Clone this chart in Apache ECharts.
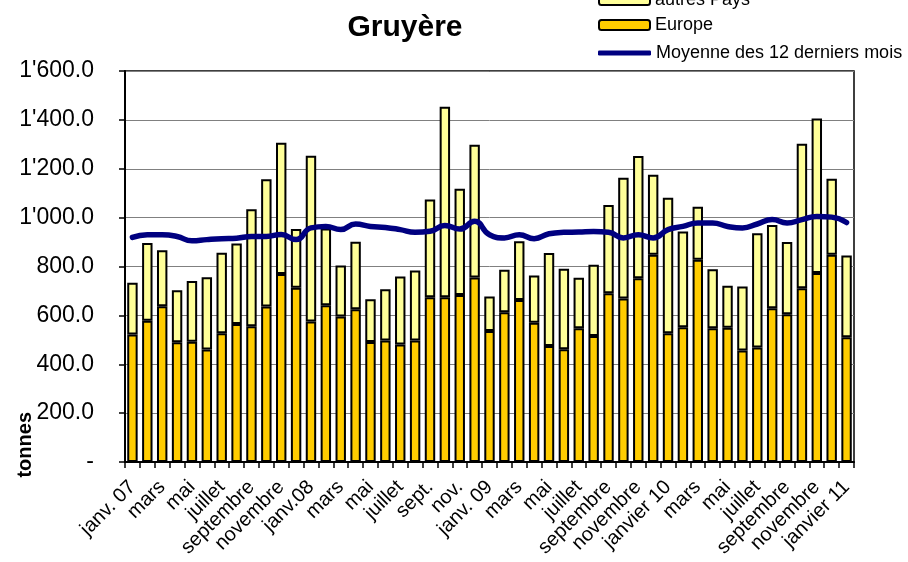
<!DOCTYPE html>
<html>
<head>
<meta charset="utf-8">
<script src="https://cdn.jsdelivr.net/npm/echarts@6/dist/echarts.min.js"></script>
<style>
html,body{margin:0;padding:0;background:#fff;}
#c{width:908px;height:562px;}
</style>
</head>
<body>
<div id="c"></div>
<script>
const months = ["janv. 07","février","mars","avril","mai","juin","juillet","août","septembre","octobre","novembre","décembre",
"janv.08","février","mars","avril","mai","juin","juillet","août","sept.","oct.","nov.","déc.",
"janv. 09","février","mars","avril","mai","juin","juillet","août","septembre","octobre","novembre","décembre",
"janvier 10","février","mars","avril","mai","juin","juillet","août","septembre","octobre","novembre","décembre",
"janvier 11"];
const europe = [522,578,637,490,492,460,527,565,555,636,769,713,575,641,595,625,491,497,481,497,674,674,683,755,536,613,663,570,475,461,547,516,691,669,752,848,527,551,828,547,549,456,469,629,605,711,773,848,510];
const autresPays = [212,318,230,213,249,296,329,329,479,521,537,240,678,314,209,276,175,210,278,287,400,780,435,543,141,174,240,193,380,330,207,291,361,494,500,327,554,392,216,242,172,262,467,341,295,591,633,311,335];
const moyenne = [919,930,930,923,905,910,914,916,923,923,931,910,958,964,951,974,964,960,951,940,944,968,953,985,930,917,930,914,934,940,941,943,940,917,930,917,951,964,978,978,964,958,974,992,978,992,1005,1002,980];

const FONT = "Liberation Sans, Arial, sans-serif";
const chart = echarts.init(document.getElementById('c'), null, {renderer:'canvas'});

function fmt(v){
  if (v === 0) return '-';
  const s = v.toFixed(1);
  const parts = s.split('.');
  const intp = parts[0].replace(/\B(?=(\d{3})+(?!\d))/g, "'");
  return intp + '.' + parts[1];
}

chart.setOption({
  animation:false,
  backgroundColor:'#fff',
  textStyle:{fontFamily:FONT},
  title:{
    text:'Gruyère',
    left:400, top:8, textAlign:'center',
    textStyle:{fontFamily:FONT,fontSize:30,fontWeight:'bold',color:'#000'}
  },
  legend:[{
    orient:'vertical',
    left:598, top:-9,
    padding:0,
    itemGap:7,
    itemWidth:51, itemHeight:10,
    textStyle:{fontFamily:FONT,fontSize:18,color:'#000'},
    data:['autres Pays','Europe']
  },{
    orient:'vertical',
    left:598, top:44,
    padding:0,
    itemWidth:53, itemHeight:5,
    itemGap:4,
    textStyle:{fontFamily:FONT,fontSize:18,color:'#000'},
    data:[{name:'Moyenne des 12 derniers mois',icon:'roundRect'}]
  }],
  graphic:[{
    type:'text',
    left:15, top:412,
    rotation:Math.PI/2,
    style:{text:'tonnes',fontFamily:FONT,fontSize:20,fontWeight:'bold',fill:'#000'}
  }],
  grid:{
    left:125, right:54, top:71, bottom:100,
    show:true, borderColor:'#000', borderWidth:1.5, backgroundColor:'#fff'
  },
  xAxis:{
    type:'category',
    data:months,
    boundaryGap:true,
    axisLine:{lineStyle:{color:'#000',width:2}},
    axisTick:{show:true,interval:0,length:6,lineStyle:{color:'#000',width:1.5}},
    axisLabel:{interval:1,rotate:45,fontFamily:FONT,fontSize:20,color:'#000',margin:22}
  },
  yAxis:{
    type:'value',
    min:0,max:1600,interval:200,
    axisLine:{show:true,lineStyle:{color:'#000',width:2}},
    axisTick:{show:true,length:6,lineStyle:{color:'#000',width:1.5}},
    splitLine:{show:true,lineStyle:{color:'#808080',width:1}},
    axisLabel:{formatter:fmt,fontFamily:FONT,fontSize:23,color:'#000',margin:31}
  },
  series:[
    {
      name:'Europe',type:'bar',stack:'t',data:europe,
      barCategoryGap:'30%',
      itemStyle:{color:'#FFCC00',borderColor:'#000',borderWidth:2},
      z:2
    },
    {
      name:'autres Pays',type:'bar',stack:'t',data:autresPays,
      barCategoryGap:'30%',
      itemStyle:{color:'#FFFF99',borderColor:'#000',borderWidth:2},
      z:2
    },
    {
      name:'Moyenne des 12 derniers mois',type:'line',data:moyenne,
      smooth:0.5,symbol:'none',
      lineStyle:{color:'#000080',width:5.5,cap:'round'},
      itemStyle:{color:'#000080'},
      z:5
    }
  ]
});
</script>
</body>
</html>
